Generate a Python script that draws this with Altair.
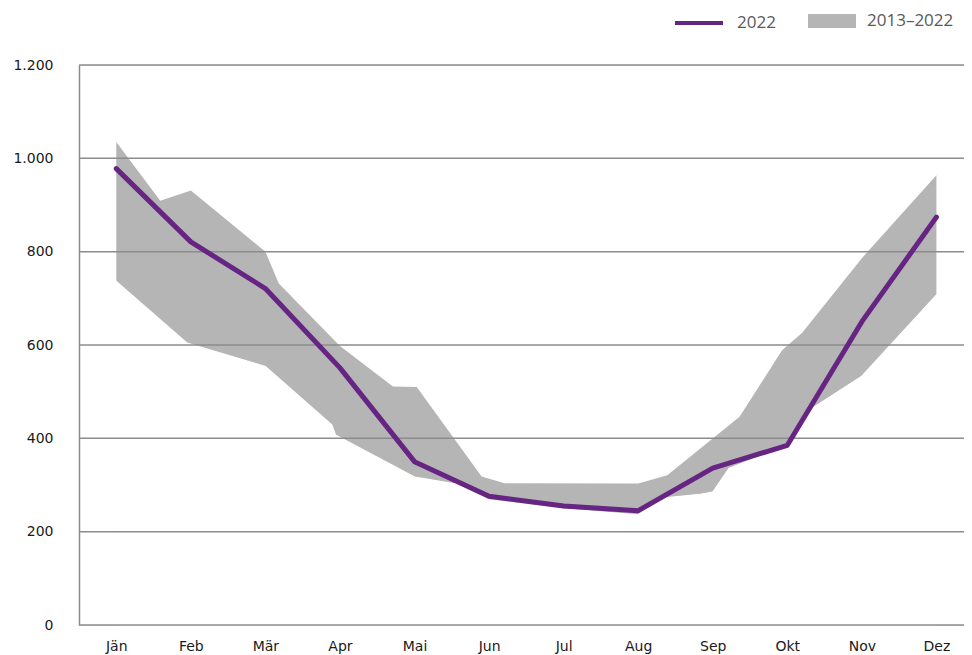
import json
import altair as alt
import pandas as pd

months = ["Jän", "Feb", "Mär", "Apr", "Mai", "Jun", "Jul", "Aug", "Sep", "Okt", "Nov", "Dez"]
values_2022 = [978, 821, 721, 551, 350, 276, 255, 245, 336, 385, 650, 874]

# upper edge of the 2013–2022 range (x = month index, may be fractional)
upper_x = [0, 0.15, 0.59, 1, 2, 2.18, 3, 3.71, 4.03, 4.9, 5.21, 7, 7.39, 8.36, 8.93, 9.2, 10, 11]
upper_v = [1035, 1003, 909, 931, 800, 732, 598, 511, 510, 318, 304, 303, 321, 446, 589, 626, 786, 964]
# lower edge of the 2013–2022 range
lower_x = [0, 0.95, 2, 2.89, 2.94, 4, 4.56, 5, 6, 7, 7.33, 7.83, 8, 8.22, 9, 9.3, 10, 11]
lower_v = [736, 604, 554, 429, 407, 317, 302, 268, 249, 236, 272, 280, 285, 336, 384, 461, 533, 707]

y_ticks = [0, 200, 400, 600, 800, 1000, 1200]

PURPLE = "#662483"
GREY = "#b5b5b5"
GRID = "#8c8c8c"
FONT = "DejaVu Sans"

line_df = pd.DataFrame({"x": list(range(12)), "v": values_2022, "s": ["2022"] * 12})
up_df = pd.DataFrame({"x": upper_x, "v": upper_v, "b": ["2013–2022"] * len(upper_x)})
lo_df = pd.DataFrame({"x": lower_x, "v": lower_v})
grid_df = pd.DataFrame({"v": y_ticks})

xscale = alt.Scale(domain=[-0.5, 11.37], nice=False, zero=False)
yscale = alt.Scale(domain=[0, 1200], nice=False)

label_expr = json.dumps(months) + "[datum.value]"

x_axis = alt.Axis(
    values=list(range(12)), labelExpr=label_expr, title=None, domain=False, ticks=False,
    grid=False, labelFont=FONT, labelFontSize=14, labelColor="#1a1a1a", labelPadding=14,
)
y_axis = alt.Axis(
    values=y_ticks, labelExpr="replace(format(datum.value, ','), ',', '.')", title=None,
    domain=True, domainColor=GRID, domainWidth=1.5, ticks=False, grid=False,
    labelFont=FONT, labelFontSize=14, labelColor="#1a1a1a", labelPadding=26,
)

band_upper = alt.Chart(up_df).mark_area(opacity=1).encode(
    x=alt.X("x:Q", scale=xscale, axis=x_axis),
    y=alt.Y("v:Q", scale=yscale, axis=y_axis),
    y2=alt.datum(0),
    fill=alt.Fill(
        "b:N",
        scale=alt.Scale(domain=["2013–2022"], range=[GREY]),
        legend=alt.Legend(
            title=None, orient="none", legendX=729, legendY=-68, padding=0,
            symbolType="M-1,-0.29L1,-0.29L1,0.29L-1,0.29Z", symbolSize=2304,
            symbolStrokeWidth=0, symbolOpacity=1, labelFont="Open Sans", labelFontSize=17,
            labelColor="#595959", labelOffset=11,
        ),
    ),
)

band_lower = alt.Chart(lo_df).mark_area(color="white", opacity=1, stroke="white", strokeWidth=1.2).encode(
    x=alt.X("x:Q", scale=xscale),
    y=alt.Y("v:Q", scale=yscale),
    y2=alt.datum(0),
)

grid = alt.Chart(grid_df).mark_rule(color=GRID, strokeWidth=1.5).encode(
    y=alt.Y("v:Q", scale=yscale),
)

line = alt.Chart(line_df).mark_line(strokeWidth=5, strokeCap="round", strokeJoin="round").encode(
    x=alt.X("x:Q", scale=xscale),
    y=alt.Y("v:Q", scale=yscale),
    stroke=alt.Stroke(
        "s:N",
        scale=alt.Scale(domain=["2022"], range=[PURPLE]),
        legend=alt.Legend(
            title=None, orient="none", legendX=594, legendY=-68, padding=0,
            symbolType="stroke", symbolSize=2304, symbolStrokeWidth=4,
            labelFont="Open Sans", labelFontSize=17, labelColor="#595959", labelOffset=12,
        ),
    ),
)

chart = alt.layer(band_upper, band_lower, grid, line).resolve_scale(
    fill="independent", stroke="independent"
).properties(
    width=885, height=560,
    autosize=alt.AutoSizeParams(type="none"),
    padding={"left": 71, "top": 57, "right": 0, "bottom": 32},
).configure_view(stroke=None).configure(background="white")

chart.save("out.html", embed_options={"renderer": "svg", "actions": False})
